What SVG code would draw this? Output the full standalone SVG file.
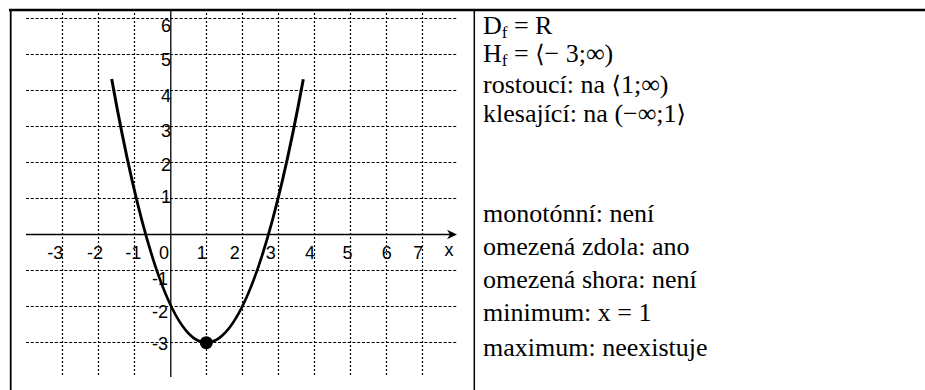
<svg xmlns="http://www.w3.org/2000/svg" width="925" height="390" viewBox="0 0 925 390">
<style>
.gh{stroke:#000;stroke-width:1.2;stroke-dasharray:3 1.8;fill:none}
.gv{stroke:#000;stroke-width:1.2;stroke-dasharray:2 2;fill:none}
.ax{stroke:#000;stroke-width:1.3;fill:none}
.lb{font-family:"Liberation Sans",Arial,sans-serif;font-size:18px;fill:#000}
.lc{text-anchor:middle}
.le{text-anchor:end}
text.tx{font-family:"Liberation Serif","Times New Roman",serif;font-size:26px;fill:#000}
.sb{font-size:17px}
.br{font-family:"DejaVu Serif","Liberation Serif",serif;font-size:24px}
</style>
<rect width="925" height="390" fill="#fff"/>
<g id="table">
<line x1="9" y1="10" x2="925" y2="10" stroke="#000" stroke-width="2.6"/>
<line x1="10.7" y1="10" x2="10.7" y2="390" stroke="#000" stroke-width="1.8"/>
<line x1="474.3" y1="10" x2="474.3" y2="390" stroke="#000" stroke-width="1.5"/>
</g>
<g id="grid">
<path class="gh" d="M26,18.5H457M26,54.5H457M26,90.5H457M26,126.5H457M26,162.5H457M26,198.5H457M26,270.5H457M26,306.5H457M26,342.5H457"/>
<path class="gv" d="M62.5,13V377M98.5,13V377M134.5,13V377M206.5,13V377M242.5,13V377M278.5,13V377M314.5,13V377M350.5,13V377M386.5,13V377M422.5,13V377"/>
</g>
<g id="axes">
<line class="ax" x1="26" y1="234.5" x2="450" y2="234.5"/>
<path d="M457,234.5L447,229.8L450,234.5L447,239.2Z" fill="#000"/>
<line class="ax" x1="170.8" y1="11" x2="170.8" y2="377"/>
</g>
<g id="curve">
<path d="M111.7,79Q159,342.7 206.3,342.7Q254.8,342.7 303.3,79.3" fill="none" stroke="#000" stroke-width="3"/>
<circle cx="206.3" cy="342.7" r="6.5" fill="#000"/>
</g>
<g id="axis-labels">
<text class="lb le" x="171" y="31.5">6</text>
<text class="lb le" x="171" y="66">5</text>
<text class="lb le" x="171" y="102">4</text>
<text class="lb le" x="171" y="137">3</text>
<text class="lb le" x="171" y="171">2</text>
<text class="lb le" x="171" y="203">1</text>
<text class="lb le" x="168" y="285">-1</text>
<text class="lb le" x="168" y="318">-2</text>
<text class="lb le" x="168" y="350">-3</text>
<text class="lb lc" x="55.3" y="259">-3</text>
<text class="lb lc" x="95" y="259">-2</text>
<text class="lb lc" x="133.3" y="259">-1</text>
<text class="lb lc" x="164" y="259">0</text>
<text class="lb lc" x="201.7" y="259">1</text>
<text class="lb lc" x="234.7" y="259">2</text>
<text class="lb lc" x="270.8" y="259">3</text>
<text class="lb lc" x="310" y="259">4</text>
<text class="lb lc" x="347.5" y="259">5</text>
<text class="lb lc" x="386.7" y="259">6</text>
<text class="lb lc" x="418.3" y="259">7</text>
<text class="lb lc" x="449" y="256">x</text>
</g>
<g id="properties">
<text class="tx" x="483" y="34">D<tspan class="sb" dy="4">f</tspan><tspan dy="-4"> = R</tspan></text>
<text class="tx" x="483" y="62">H<tspan class="sb" dy="4">f</tspan><tspan dy="-4"> = </tspan><tspan class="br">⟨</tspan>− 3;∞)</text>
<text class="tx" x="483" y="93">rostoucí: na <tspan class="br">⟨</tspan>1;∞)</text>
<text class="tx" x="483" y="122">klesající: na (−∞;1<tspan class="br">⟩</tspan></text>
<text class="tx" x="483" y="222">monotónní: není</text>
<text class="tx" x="483" y="255">omezená zdola: ano</text>
<text class="tx" x="483" y="288">omezená shora: není</text>
<text class="tx" x="483" y="321">minimum: x = 1</text>
<text class="tx" x="483" y="356">maximum: neexistuje</text>
</g>
</svg>
